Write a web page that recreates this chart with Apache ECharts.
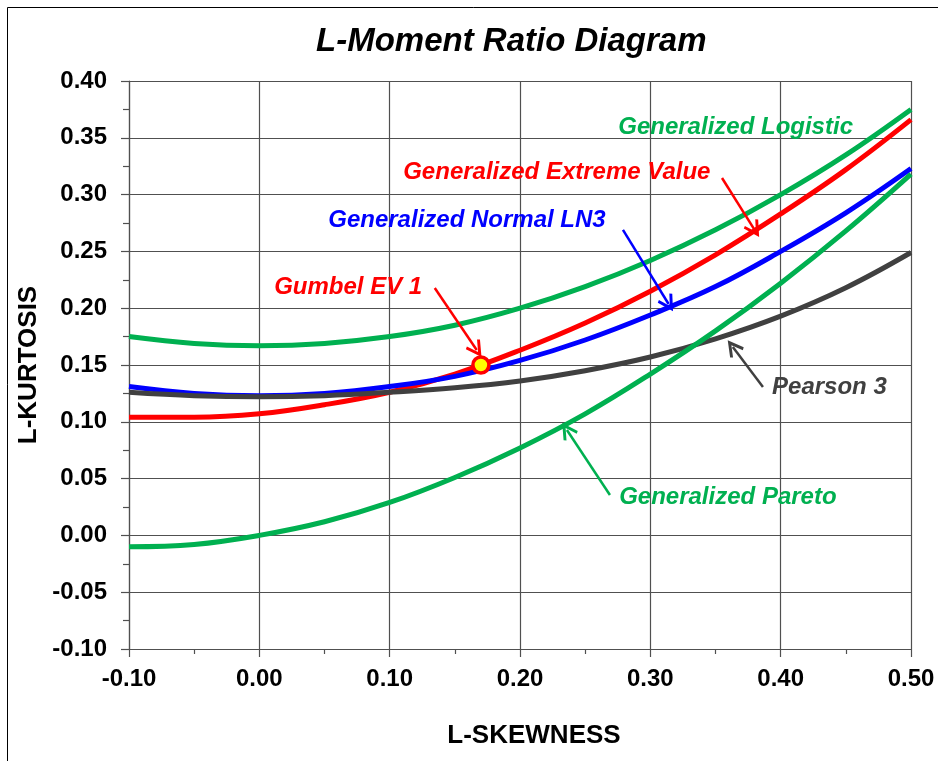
<!DOCTYPE html>
<html>
<head>
<meta charset="utf-8">
<script src="https://cdn.jsdelivr.net/npm/echarts@6/dist/echarts.min.js"></script>
<style>
  html, body { margin: 0; padding: 0; background: #fff; }
  #chart { width: 938px; height: 761px; }
</style>
</head>
<body>
<div id="chart"></div>
<script>
// L-skewness grid (x) and L-kurtosis (y)
var skew      = [-0.10, -0.05, 0.00, 0.05, 0.10, 0.15, 0.20, 0.25, 0.30, 0.35, 0.40, 0.45, 0.50];
var glo       = [0.175, 0.169, 0.167, 0.169, 0.175, 0.185, 0.200, 0.219, 0.242, 0.269, 0.300, 0.335, 0.375];
var gev       = [0.104, 0.104, 0.107, 0.115, 0.126, 0.142, 0.163, 0.187, 0.215, 0.247, 0.283, 0.322, 0.366];
var gno       = [0.131, 0.125, 0.123, 0.125, 0.131, 0.140, 0.154, 0.172, 0.194, 0.219, 0.250, 0.284, 0.323];
var pe3       = [0.126, 0.123, 0.122, 0.123, 0.126, 0.130, 0.136, 0.145, 0.157, 0.173, 0.193, 0.218, 0.249];
var gpa       = [-0.010, -0.008, 0.000, 0.012, 0.029, 0.051, 0.077, 0.107, 0.142, 0.180, 0.222, 0.268, 0.318];
var gumbel    = [0.170, 0.150];

// annotation text and arrows (data units)
var labels = [
  { text: 'Generalized Logistic',      at: [0.275, 0.3595], color: '#00B050' },
  { text: 'Generalized Extreme Value', at: [0.110, 0.320],  color: '#FF0000' },
  { text: 'Generalized Normal LN3',    at: [0.0525, 0.2776], color: '#0000FF' },
  { text: 'Gumbel EV 1',               at: [0.011, 0.2187], color: '#FF0000' },
  { text: 'Pearson 3',                 at: [0.393, 0.1306], color: '#404040' },
  { text: 'Generalized Pareto',        at: [0.2757, 0.0338], color: '#00B050' }
];
var arrows = [
  { from: [0.355, 0.3146], to: [0.380, 0.269],  color: '#FF0000' },
  { from: [0.279, 0.269],  to: [0.314, 0.2037], color: '#0000FF' },
  { from: [0.1346, 0.2178], to: [0.1668, 0.1632], color: '#FF0000' },
  { from: [0.3864, 0.1306], to: [0.3633, 0.1658], color: '#404040' },
  { from: [0.269, 0.0356], to: [0.236, 0.0928], color: '#00B050' }
];

var FONT = '"Liberation Sans", Arial, sans-serif';
var GRID = '#505050';
var chevron = 'path://M5,0 L10,9 L8.6,10 L5,3.6 L1.4,10 L0,9 Z';

function pairs(ys) {
  return skew.map(function (x, i) { return [x, ys[i]]; });
}

function curve(name, ys, color) {
  return {
    name: name,
    type: 'line',
    data: pairs(ys),
    smooth: 0.4,
    showSymbol: false,
    symbol: 'none',
    lineStyle: { color: color, width: 5 },
    silent: true,
    z: 3
  };
}

var series = [
  curve('GEV', gev, '#FF0000'),
  curve('GNO', gno, '#0000FF'),
  curve('PE3', pe3, '#404040'),
  curve('GLO', glo, '#00B050'),
  curve('GPA', gpa, '#00B050')
];

// annotations series: labels as markPoint, arrows as markLine
series.push({
  name: 'notes',
  type: 'line',
  data: [],
  silent: true,
  z: 6,
  markPoint: {
    symbol: 'circle',
    symbolSize: 1,
    itemStyle: { color: 'rgba(0,0,0,0)' },
    data: labels.map(function (l) {
      return {
        coord: l.at,
        label: {
          show: true,
          position: 'right',
          distance: 0,
          formatter: l.text,
          color: l.color,
          fontFamily: FONT,
          fontSize: 24,
          fontWeight: 'bold',
          fontStyle: 'italic'
        }
      };
    })
  },
  markLine: {
    silent: true,
    symbol: ['none', chevron],
    symbolSize: 17,
    label: { show: false },
    animation: false,
    data: arrows.map(function (a) {
      return [
        { coord: a.from, lineStyle: { color: a.color, width: 2.5, type: 'solid' } },
        { coord: a.to }
      ];
    })
  }
});

series.push({
  name: 'Gumbel',
  type: 'scatter',
  data: [gumbel],
  symbol: 'circle',
  symbolSize: 16,
  itemStyle: { color: '#FFFF00', borderColor: '#FF0000', borderWidth: 3.5, opacity: 1 },
  silent: true,
  z: 8
});

var option = {
  animation: false,
  backgroundColor: '#ffffff',
  title: {
    text: 'L-Moment Ratio Diagram',
    left: 316,
    top: 25,
    padding: 0,
    textStyle: { fontFamily: FONT, fontSize: 33, fontWeight: 'bold', fontStyle: 'italic', color: '#000' }
  },
  graphic: [{
    type: 'rect',
    shape: { x: 7.5, y: 7.5, width: 1000, height: 1000 },
    style: { fill: 'none', stroke: '#000', lineWidth: 1 },
    silent: true
  }],
  grid: { left: 129, right: 27, top: 81, bottom: 112 },
  xAxis: {
    type: 'value',
    min: -0.1,
    max: 0.5,
    interval: 0.1,
    name: 'L-SKEWNESS',
    nameLocation: 'middle',
    nameGap: 74,
    nameTextStyle: { fontFamily: FONT, fontSize: 26, fontWeight: 'bold', color: '#000', padding: [0, 0, 0, 28] },
    axisLine: { show: true, onZero: false, lineStyle: { color: GRID, width: 1.2 } },
    axisTick: { show: true, inside: false, length: 8, lineStyle: { color: GRID, width: 1.2 } },
    minorTick: { show: true, splitNumber: 2, length: 5, lineStyle: { color: GRID, width: 1.2 } },
    splitLine: { show: true, lineStyle: { color: GRID, width: 1.2 } },
    axisLabel: {
      margin: 18,
      fontFamily: FONT, fontSize: 24, fontWeight: 'bold', color: '#000',
      formatter: function (v) { return v.toFixed(2); }
    }
  },
  yAxis: {
    type: 'value',
    min: -0.1,
    max: 0.4,
    interval: 0.05,
    name: 'L-KURTOSIS',
    nameLocation: 'middle',
    nameGap: 86,
    nameRotate: 90,
    nameTextStyle: { fontFamily: FONT, fontSize: 26, fontWeight: 'bold', color: '#000' },
    axisLine: { show: true, onZero: false, lineStyle: { color: GRID, width: 1.2 } },
    axisTick: { show: true, inside: false, length: 8, lineStyle: { color: GRID, width: 1.2 } },
    minorTick: { show: true, splitNumber: 2, length: 6, lineStyle: { color: GRID, width: 1.2 } },
    splitLine: { show: true, lineStyle: { color: GRID, width: 1.2 } },
    axisLabel: {
      margin: 22,
      fontFamily: FONT, fontSize: 24, fontWeight: 'bold', color: '#000',
      formatter: function (v) { return v.toFixed(2); }
    }
  },
  series: series
};

var myChart = echarts.init(document.getElementById('chart'), null, { renderer: 'canvas' });
myChart.setOption(option);
</script>
</body>
</html>
